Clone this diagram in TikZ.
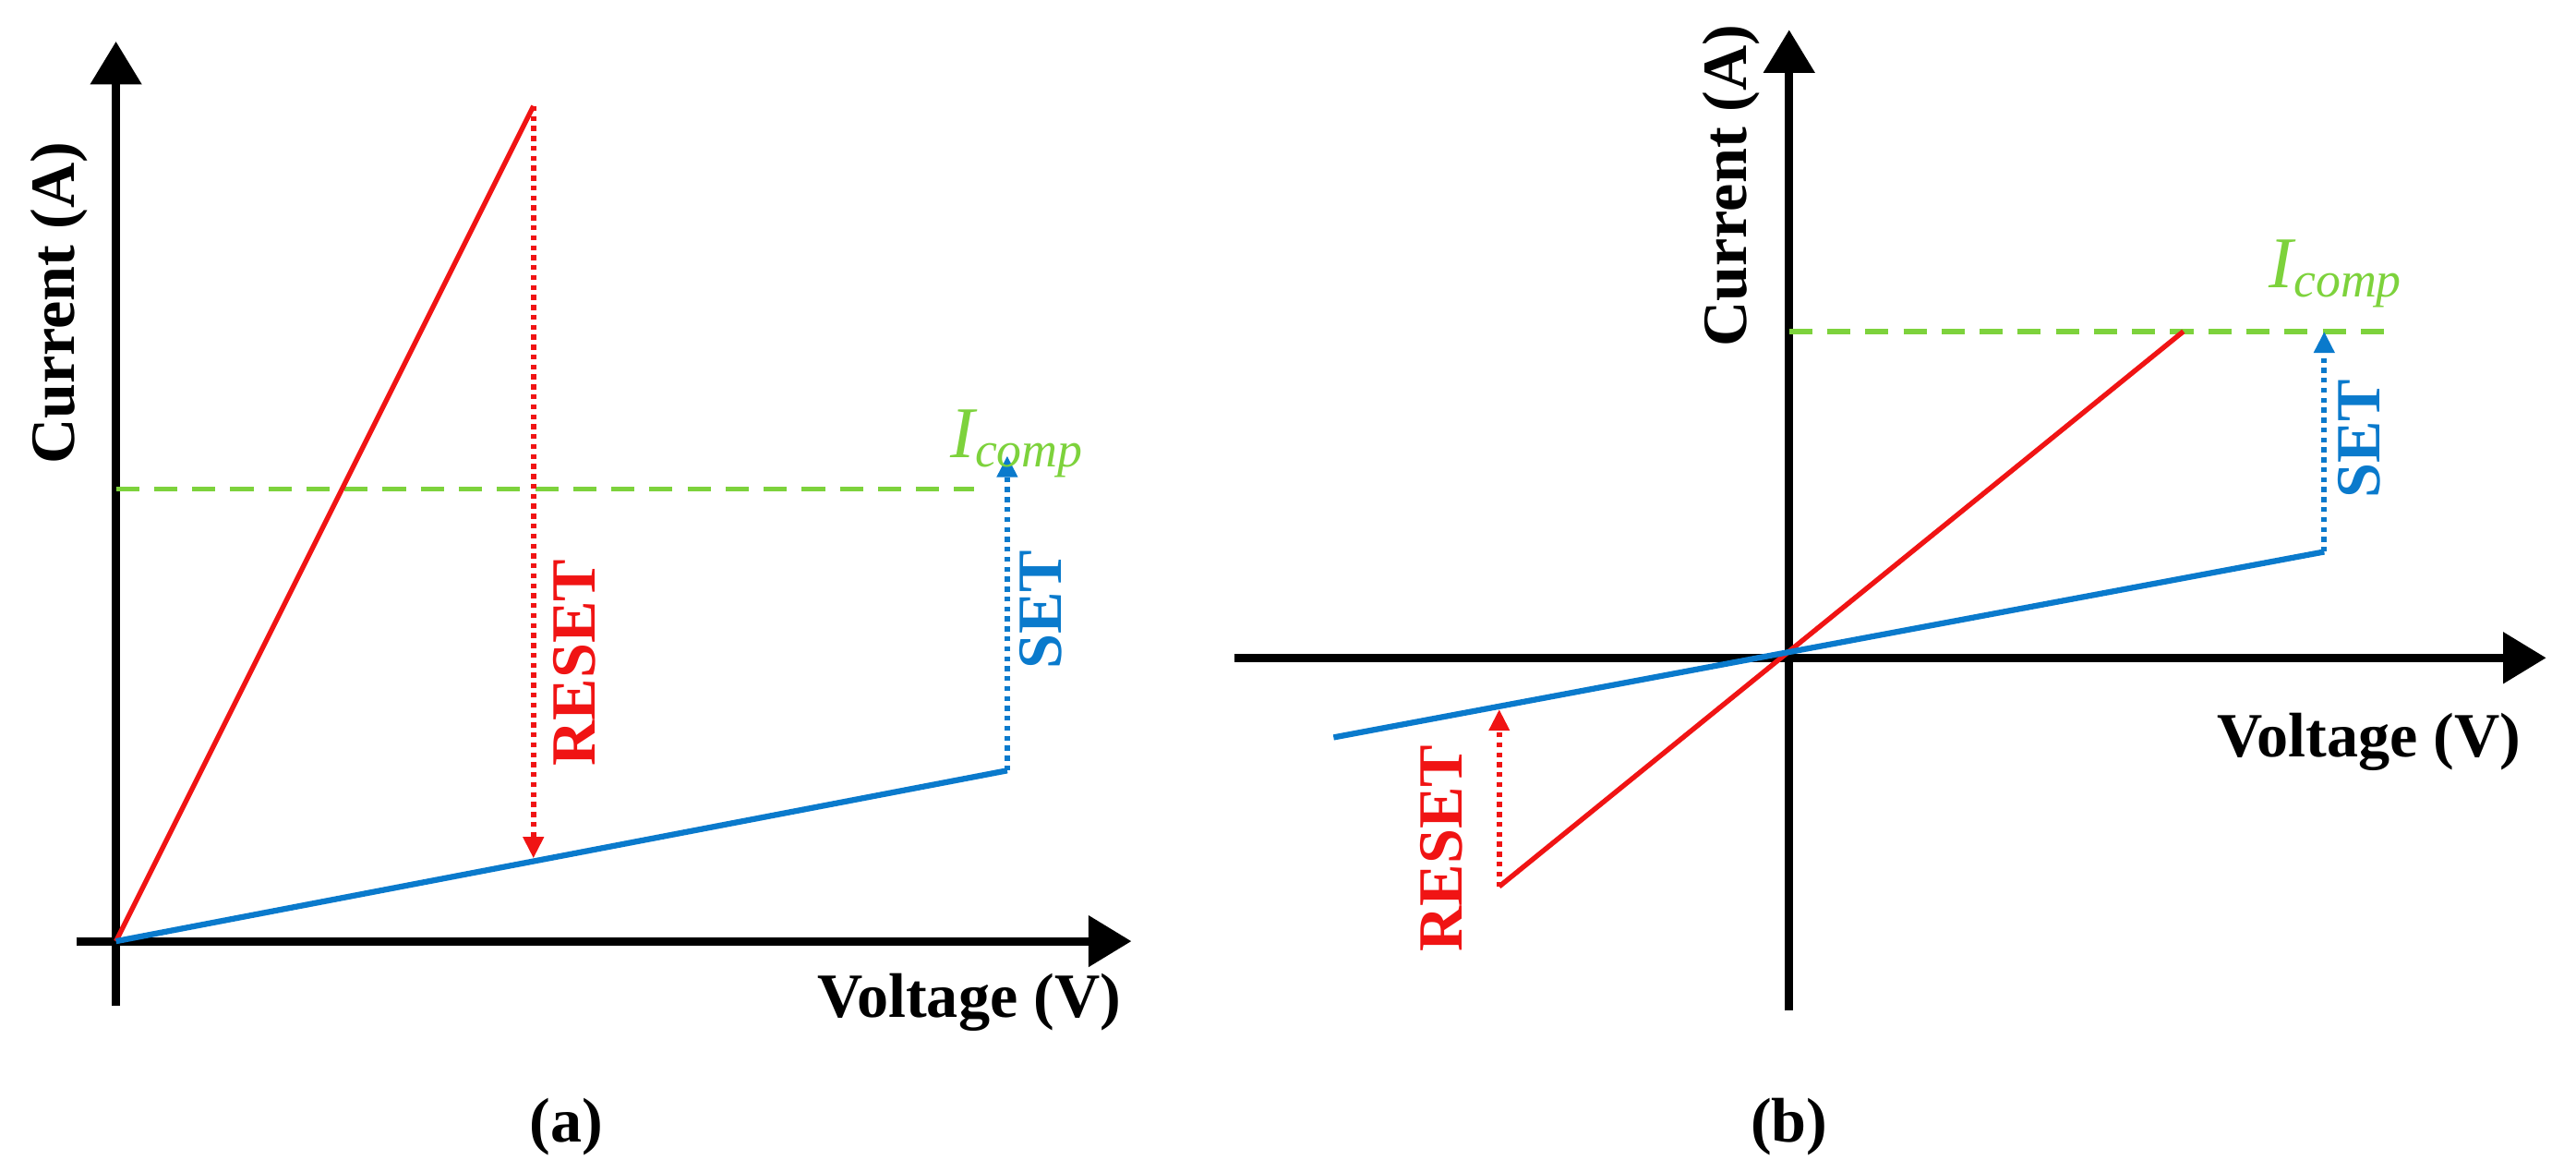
\documentclass[tikz,border=0pt]{standalone}
\usepackage{fontspec}
\setmainfont{Liberation Serif}
\usetikzlibrary{arrows.meta}
\definecolor{cred}{RGB}{240,20,20}
\definecolor{cblue}{RGB}{10,122,204}
\definecolor{cgreen}{RGB}{125,210,60}
\begin{document}
\begin{tikzpicture}[x=1pt,y=-1pt,
  ax/.style={line width=5pt,-{Triangle[length=26pt,width=30pt]}},
  rl/.style={cred,line width=3pt},
  bl/.style={cblue,line width=3.5pt},
  gd/.style={cgreen,line width=3pt,dash pattern=on 14pt off 9pt},
  dr/.style={line width=3.5pt,dash pattern=on 3pt off 3pt,-{Triangle[length=13pt,width=12pt]}},
  lab/.style={font=\fontsize{38}{42}\selectfont\bfseries,inner sep=0pt},
  ic/.style={cgreen,font=\fontsize{44}{46}\selectfont\itshape,inner sep=0pt}]
\useasboundingbox (0,0) rectangle (1555,700);
% panel a
\coordinate (ao) at (70,568);
\coordinate (ab) at (70,607);
\coordinate (at) at (70,25);
\coordinate (al) at (46,568);
\coordinate (ar) at (683,568);
\draw[ax] (ab) -- (at);
\draw[ax] (al) -- (ar);
\coordinate (ag1) at (70,295); \coordinate (ag2) at (588,295);
\draw[gd] (ag1) -- (ag2);
\coordinate (arT) at (322,64);
\coordinate (arB) at (322,518);
\coordinate (abE) at (608,465);
\coordinate (abT) at (608,275);
\draw[rl] (ao) -- (arT);
\draw[bl] (ao) -- (abE);
\draw[dr,cred] (arT) -- (arB);
\draw[dr,cblue] (abE) -- (abT);
\node[ic] (ica) at (614,268) {I\textsubscript{\fontsize{30}{32}\selectfont comp}};
\node[lab,cred,rotate=90] (rsa) at (347,400) {RESET};
\node[lab,cblue,rotate=90] (sta) at (628,368) {SET};
\node[lab] (va) at (585,605) {Voltage (V)};
\node[lab,rotate=90] (ca) at (36,183) {Current (A)};
\node[lab] (pa) at (342,680) {(a)};
% panel b
\coordinate (bo) at (1080,397);
\coordinate (bb) at (1080,610);
\coordinate (bt) at (1080,18);
\coordinate (bl0) at (745,397);
\coordinate (br) at (1537,397);
\draw[ax] (bb) -- (bt);
\draw[ax] (bl0) -- (br);
\coordinate (bg1) at (1080,200); \coordinate (bg2) at (1442,200);
\draw[gd] (bg1) -- (bg2);
\coordinate (brL) at (905,535);
\coordinate (brR) at (1318,200);
\coordinate (brU) at (905,428);
\coordinate (bbL) at (805,445);
\coordinate (bbR) at (1403,333);
\coordinate (bbT) at (1403,200);
\draw[rl] (brL) -- (brR);
\draw[bl] (bbL) -- (bbR);
\draw[dr,cred] (brL) -- (brU);
\draw[dr,cblue] (bbR) -- (bbT);
\node[ic] (icb) at (1410,165) {I\textsubscript{\fontsize{30}{32}\selectfont comp}};
\node[lab,cred,rotate=90] (rsb) at (870,512) {RESET};
\node[lab,cblue,rotate=90] (stb) at (1424,265) {SET};
\node[lab] (vb) at (1430,448) {Voltage (V)};
\node[lab,rotate=90] (cb) at (1045,112) {Current (A)};
\node[lab] (pb) at (1080,680) {(b)};
\end{tikzpicture}
\end{document}
